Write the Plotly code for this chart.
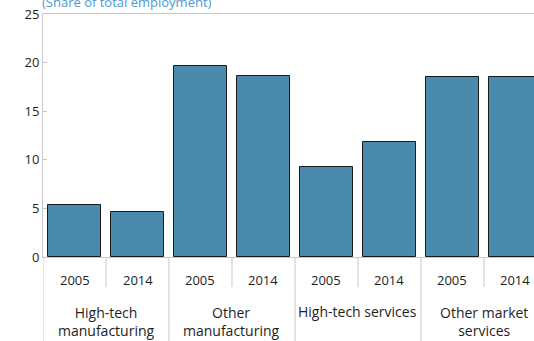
import plotly.graph_objects as go

groups = ["High-tech<br>manufacturing", "Other<br>manufacturing", "High-tech services", "Other market<br>services"]
years = ["2005", "2014"]
values = [5.4, 4.6, 19.7, 18.6, 9.3, 11.8, 18.5, 18.5]
y_ticks = [0, 5, 10, 15, 20, 25]
title_text = "(Share of total employment)"

n = len(values)
xpos = list(range(n))
FONT = "Open Sans"
TXT = "#1e1e1e"
GRID = "#c8c8c8"

fig = go.Figure()
fig.add_trace(go.Bar(
    x=xpos, y=values, width=0.83,
    marker=dict(color="#4a8bad", line=dict(color="#1a1a1a", width=1)),
    showlegend=False, hoverinfo="skip",
))

shapes = []
annotations = []
H = 243.0  # plot height in px
for i in range(n):
    annotations.append(dict(x=i, xref="x", y=0, yref="paper", text=years[i % 2],
                            showarrow=False, yanchor="middle", yshift=-23,
                            font=dict(family=FONT, size=13, color=TXT)))
for i in range(n):
    xb = i - 0.5
    full = (i % 2 == 0)
    shapes.append(dict(type="line", xref="x", yref="paper", x0=xb, x1=xb,
                       y0=0, y1=(-84 / H) if full else (-30 / H),
                       line=dict(color=GRID, width=1)))
for g, name in enumerate(groups):
    two = "<br>" in name
    annotations.append(dict(x=2 * g + 0.5, xref="x", y=0, yref="paper", text=name,
                            showarrow=False, yanchor="middle",
                            yshift=-64 if two else -54,
                            font=dict(family=FONT, size=14, color=TXT)))
annotations.append(dict(x=0, xref="paper", y=1, yref="paper", text=title_text,
                        showarrow=False, xanchor="left", yanchor="middle",
                        xshift=-3, yshift=12,
                        font=dict(family=FONT, size=13, color="#4a9ad4")))

fig.update_layout(
    width=534, height=341,
    margin=dict(l=43, r=0, t=14, b=84, autoexpand=False),
    plot_bgcolor="white", paper_bgcolor="white",
    shapes=shapes, annotations=annotations,
    xaxis=dict(range=[-0.5, 7.294], showticklabels=False, ticks="",
               showline=True, mirror=True, linecolor=GRID, linewidth=1,
               showgrid=False, zeroline=False, automargin=False),
    yaxis=dict(range=[0, 25], tickvals=y_ticks, showgrid=False, zeroline=False,
               showline=True, linecolor=GRID, linewidth=1,
               ticks="inside", ticklen=4, tickcolor=GRID, automargin=False,
               tickfont=dict(family=FONT, size=13, color=TXT)),
    bargap=0,
)

fig.write_html("out.html", config={"displayModeBar": False},
               post_script="document.body.style.margin='0';document.body.style.padding='0';")
